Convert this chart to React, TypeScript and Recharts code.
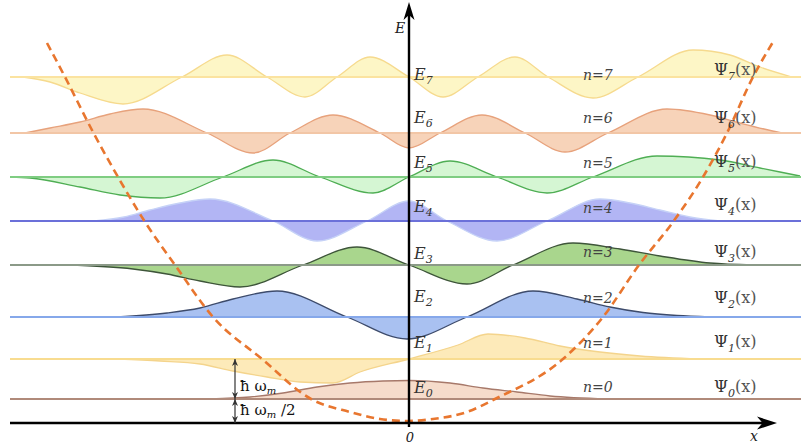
import React from 'react';
import { ComposedChart, Area, Line, Scatter, XAxis, YAxis } from 'recharts';

// Energy levels E0..E7 (arbitrary units, x axis at 0)
const levels = [2.4, 6.4, 10.6, 15.8, 20.2, 24.6, 29.0, 34.6];

// Wavefunction samples [x, psi]; psi is measured from the level of the state
const psi0 = [[-19.9, 0], [-15.9, 0.2], [-12.6, 0.6], [-9.2, 1.2], [-5.9, 1.6], [-2.6, 1.8], [0, 1.85], [4.1, 1.6], [7.4, 1.1], [10.8, 0.7], [14.1, 0.3], [19.8, 0]];
const psi1 = [[-29.1, 0], [-24.9, -0.2], [-20.9, -0.5], [-17.6, -1.2], [-14.2, -1.8], [-10.9, -2.3], [-7.6, -2.4], [-4.9, -1.3], [0, 0], [4.9, 1.4], [7.9, 2.5], [11.6, 2.1], [15.1, 1.3], [19.1, 0.7], [23.1, 0.3], [29.1, 0]];
const psi2 = [[-29.2, 0], [-24.2, 0.4], [-20.9, 0.9], [-17.6, 1.8], [-13.2, 2.6], [-6.2, 0], [-0.2, -2.2], [5.8, 0], [12.4, 2.6], [16.8, 1.8], [20.1, 1.0], [23.4, 0.45], [26.8, 0.15], [30.1, 0]];
const psi3 = [[-34.2, 0], [-27.6, -0.4], [-24.2, -0.9], [-20.9, -1.6], [-16.9, -2.2], [-10.6, 0], [-5.2, 1.8], [0, 0], [5.8, -1.9], [10.4, 0], [16.4, 2.2], [21.1, 1.6], [25.1, 0.9], [30.1, 0.2], [34.4, 0]];
const psi4 = [[-31.5, 0], [-28.5, 0.4], [-25.9, 1.1], [-22.9, 1.8], [-19.9, 2.2], [-13.6, 0], [-9.2, -2.0], [-4.2, 0], [0, 2.0], [3.8, 0], [8.8, -2.0], [13.8, 0], [19.1, 2.2], [22.1, 1.8], [25.1, 1.1], [28.1, 0.4], [31.1, 0]];
const psi5 = [[-39.9, 0], [-37.9, -0.1], [-32.9, -1.0], [-28.9, -1.8], [-24.9, -2.1], [-18.6, 0], [-13.6, 1.7], [-8.9, 0], [-3.6, -1.6], [0, 0], [4.1, 1.6], [8.8, 0], [13.8, -1.6], [18.4, 0], [24.8, 2.1], [31.1, 1.7], [35.1, 0.9], [39.1, 0.1]];
const psi6 = [[-38.4, 0], [-35.9, 0.5], [-32.9, 1.1], [-29.9, 1.9], [-26.6, 2.4], [-20.2, 0], [-15.6, -2.0], [-11.9, 0], [-7.6, 1.8], [-2.9, 0], [0, -1.5], [3.1, 0], [7.3, 1.8], [11.6, 0], [15.6, -1.9], [19.9, 0], [25.8, 2.4], [30.1, 1.8], [33.1, 1.0], [35.5, 0.4], [37.3, 0]];
const psi7 = [[-38.6, 0], [-35.9, -0.5], [-32.9, -1.6], [-28.6, -2.7], [-22.7, 0], [-18.2, 2.2], [-14.2, 0], [-10.4, -2.0], [-7.2, 0], [-3.9, 2.0], [0, 0], [3.4, -2.0], [6.9, 0], [10.6, 2.0], [13.9, 0], [18.4, -2.1], [22.9, 0], [28.4, 2.7], [32.1, 2.2], [35.1, 1.0], [38.3, 0]];
const wavefunctions = [psi0, psi1, psi2, psi3, psi4, psi5, psi6, psi7];

// Harmonic potential V(x), [x, V]
const potential = [[-36.2, 38.0], [-34.4, 34.6], [-31.6, 29.1], [-29.1, 24.6], [-26.4, 20.1], [-23.4, 15.8], [-19.6, 10.6], [-14.7, 6.4], [-9.8, 2.4], [-5.9, 1.1], [-2.9, 0.4], [-0.1, 0.2], [2.4, 0.4], [5.8, 1.1], [8.6, 2.4], [15.4, 6.4], [19.4, 10.6], [23.0, 15.8], [26.4, 20.1], [29.4, 24.6], [31.8, 29.0], [34.4, 34.6], [36.4, 38.1]];

const lineStart = -39.9;
const lineEnd = 39.2;
const xAxisTip = 36.8;
const yAxisTip = 42.1;
const quantumX = -17.4;

const X_DOMAIN = [-40.9, 39.2];
const Y_DOMAIN = [-2.5, 42.3];

const palette = [
  { fill: '#f6dccb', stroke: '#a7796a', base: '#b08a7a' },
  { fill: '#fdeab9', stroke: '#f4d48c', base: '#f8dc90' },
  { fill: '#a9c1f1', stroke: '#3d4b6b', base: '#86a8ea' },
  { fill: '#a9d68d', stroke: '#3e553a', base: '#8b9a88' },
  { fill: '#b2b5f4', stroke: '#c6d2f7', base: '#6b70d9' },
  { fill: '#d5f6d3', stroke: '#4fae54', base: '#7fcd82' },
  { fill: '#f7d3b9', stroke: '#e7a27c', base: '#f2c6a6' },
  { fill: '#fdf6c6', stroke: '#f6da8e', base: '#fbe3a0' },
];

// label baselines relative to each level line, in px
const eDy = [-5.7, -11, -14.7, -6.3, -9, -8.7, -9.7, 3.3];
const nDy = [-6.7, -11, -13.7, -8.3, -8, -8.7, -9.7, 3.3];
const psiDy = [-6.7, -12, -13.7, -8.3, -11, -9.7, -9.7, -1.7];

const SERIF = '"DejaVu Serif", serif';

const levelLabels = levels.flatMap((e, n) => [
  { x: 0.5, y: e, n, kind: 'E' },
  { x: 17.4, y: e, n, kind: 'n' },
  { x: 30.5, y: e, n, kind: 'psi' },
]);

const axisLabels = [
  { x: 0, y: yAxisTip, kind: 'axisE' },
  { x: 0, y: 0, kind: 'origin' },
  { x: xAxisTip, y: 0, kind: 'axisX' },
  { x: quantumX, y: levels[0], kind: 'hw' },
  { x: quantumX, y: 0, kind: 'hw2' },
];

const arrowHeads = [
  { x: xAxisTip, y: 0, angle: 0, size: 'x' },
  { x: 0, y: yAxisTip, angle: -90, size: 'y' },
  { x: quantumX, y: levels[1], angle: -90, size: 's' },
  { x: quantumX, y: levels[0], angle: 90, size: 's' },
  { x: quantumX, y: levels[0], angle: -90, size: 's' },
  { x: quantumX, y: 0, angle: 90, size: 's' },
];

const arrowSizes: Record<string, { len: number; h: number; color: string }> = {
  x: { len: 20, h: 6.5, color: '#000' },
  y: { len: 18, h: 5.5, color: '#000' },
  s: { len: 7, h: 3, color: '#333' },
};

const ArrowHead = (props: any) => {
  const { cx, cy, payload } = props;
  const s = arrowSizes[payload.size];
  const d = `M0,0 L${-s.len},${-s.h} L${-s.len * 0.72},0 L${-s.len},${s.h} Z`;
  return <path d={d} fill={s.color} transform={`translate(${cx},${cy}) rotate(${payload.angle})`} />;
};

const LevelLabel = (props: any) => {
  const { cx, cy, payload } = props;
  const n = payload.n;
  if (payload.kind === 'E') {
    return (
      <text x={cx} y={cy + eDy[n]} fontFamily={SERIF} fontStyle="italic" fontSize={16} fill="#333">
        E<tspan dy={4} fontSize={11}>{n}</tspan>
      </text>
    );
  }
  if (payload.kind === 'n') {
    return (
      <text x={cx} y={cy + nDy[n]} fontFamily={SERIF} fontStyle="italic" fontSize={14} fill="#444">
        n={n}
      </text>
    );
  }
  return (
    <text x={cx} y={cy + psiDy[n]} fontFamily={SERIF} fontSize={16} fill="#333">
      Ψ<tspan dy={5} fontSize={11} fontStyle="italic">{n}</tspan>
      <tspan dy={-5} fill="#555">(x)</tspan>
    </text>
  );
};

const AxisLabel = (props: any) => {
  const { cx, cy, payload } = props;
  switch (payload.kind) {
    case 'axisE':
      return <text x={cx - 14} y={cy + 31} fontFamily={SERIF} fontStyle="italic" fontSize={14} fill="#222">E</text>;
    case 'origin':
      return <text x={cx + 1} y={cy + 19} textAnchor="middle" fontFamily={SERIF} fontStyle="italic" fontSize={13} fill="#222">0</text>;
    case 'axisX':
      return <text x={cx - 27} y={cy + 18} fontFamily={SERIF} fontStyle="italic" fontSize={14} fill="#222">x</text>;
    case 'hw':
      return (
        <text x={cx + 5} y={cy - 8} fontFamily={SERIF} fontSize={15} fill="#111">
          ħ ω<tspan dy={3} fontSize={10} fontStyle="italic">m</tspan>
        </text>
      );
    default:
      return (
        <text x={cx + 5} y={cy - 8} fontFamily={SERIF} fontSize={15} fill="#111">
          ħ ω<tspan dy={3} fontSize={10} fontStyle="italic">m</tspan>
          <tspan dy={-3}> /2</tspan>
        </text>
      );
  }
};

const hLine = (y: number) => [{ x: lineStart, y }, { x: lineEnd, y }];

const OscillatorLevels: React.FC = () => {
  const curves = wavefunctions.map((w, n) => w.map(([x, p]) => ({ x, y: levels[n] + p })));
  const potentialData = potential.map(([x, y]) => ({ x, y }));

  return (
    <div style={{ position: 'absolute', left: 0, top: 0, background: '#fff' }}>
      <ComposedChart width={801} height={448} margin={{ top: 0, right: 0, bottom: 0, left: 0 }}>
        <XAxis type="number" dataKey="x" domain={X_DOMAIN} allowDataOverflow hide />
        <YAxis type="number" dataKey="y" domain={Y_DOMAIN} allowDataOverflow hide />

        {curves.map((data, n) => (
          <Area
            key={`psi${n}`}
            data={data}
            dataKey="y"
            type="monotone"
            baseValue={levels[n]}
            fill={palette[n].fill}
            fillOpacity={1}
            stroke={palette[n].stroke}
            strokeWidth={1.3}
            dot={false}
            activeDot={false}
            isAnimationActive={false}
          />
        ))}

        {levels.map((e, n) => (
          <Line
            key={`level${n}`}
            data={hLine(e)}
            dataKey="y"
            type="linear"
            stroke={palette[n].base}
            strokeWidth={1.8}
            dot={false}
            activeDot={false}
            isAnimationActive={false}
          />
        ))}

        {/* potential well */}
        <Line
          data={potentialData}
          dataKey="y"
          type="monotone"
          stroke="#e8762f"
          strokeWidth={2.6}
          strokeDasharray="8 5"
          dot={false}
          activeDot={false}
          isAnimationActive={false}
        />

        {/* axes */}
        <Line data={[{ x: lineStart, y: 0 }, { x: xAxisTip - 1, y: 0 }]} dataKey="y" type="linear" stroke="#000" strokeWidth={2.6} dot={false} activeDot={false} isAnimationActive={false} />
        <Line data={[{ x: 0, y: -0.4 }, { x: 0, y: yAxisTip - 1 }]} dataKey="y" type="linear" stroke="#000" strokeWidth={2.4} dot={false} activeDot={false} isAnimationActive={false} />

        {/* ħω spacing marker */}
        <Line data={[{ x: quantumX, y: 0 }, { x: quantumX, y: levels[1] }]} dataKey="y" type="linear" stroke="#333" strokeWidth={1.2} dot={false} activeDot={false} isAnimationActive={false} />

        <Scatter data={arrowHeads} dataKey="y" shape={ArrowHead} isAnimationActive={false} />
        <Scatter data={levelLabels} dataKey="y" shape={LevelLabel} isAnimationActive={false} />
        <Scatter data={axisLabels} dataKey="y" shape={AxisLabel} isAnimationActive={false} />
      </ComposedChart>
    </div>
  );
};

export default function App() {
  return <OscillatorLevels />;
}
